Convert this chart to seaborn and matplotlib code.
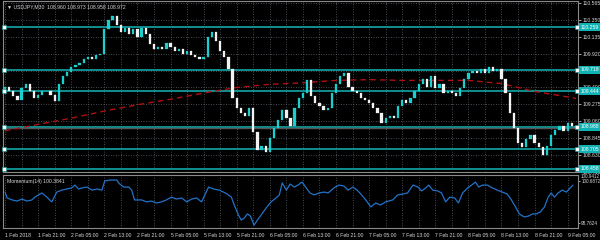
import matplotlib
matplotlib.use("Agg")
import matplotlib.pyplot as plt
import matplotlib.transforms as mtransforms
import seaborn as sns
import numpy as np
import pandas as pd

# ---------------- data ----------------
title_text = "▼ USDJPY,M30  108.960 108.973 108.958 108.972"
first_open = 109.47
closes = [109.50, 109.45, 109.38, 109.33, 109.48, 109.53, 109.45, 109.35, 109.39, 109.44,
          109.45, 109.40, 109.32, 109.54, 109.64, 109.69, 109.75, 109.78, 109.80, 109.85,
          109.88, 109.85, 109.90, 109.92, 110.23, 110.35, 110.40, 110.29, 110.20, 110.25,
          110.17, 110.23, 110.13, 110.25, 110.17, 110.04, 109.98, 110.00, 109.98, 110.05,
          110.00, 109.95, 109.98, 109.92, 109.95, 109.90, 109.88, 109.85, 109.88, 110.13,
          110.20, 110.08, 109.95, 109.88, 109.73, 109.35, 109.23, 109.17, 109.13, 109.23,
          108.92, 108.70, 108.75, 108.67, 108.85, 108.98, 109.08, 109.20, 109.10, 109.00,
          109.23, 109.35, 109.42, 109.58, 109.38, 109.29, 109.25, 109.20, 109.23, 109.42,
          109.54, 109.63, 109.67, 109.50, 109.45, 109.42, 109.35, 109.33, 109.29, 109.23,
          109.17, 109.04, 109.10, 109.13, 109.10, 109.25, 109.33, 109.29, 109.35, 109.45,
          109.54, 109.60, 109.50, 109.63, 109.48, 109.54, 109.42, 109.45, 109.42, 109.38,
          109.48, 109.60, 109.67, 109.70, 109.67, 109.73, 109.68, 109.75, 109.70, 109.73,
          109.60, 109.42, 109.17, 108.98, 108.79, 108.73, 108.83, 108.88, 108.79, 108.73,
          108.63, 108.75, 108.88, 108.95, 109.00, 108.94, 109.04, 109.00, 108.97]

ma_idx = [0, 8, 16, 24, 32, 40, 48, 56, 64, 72, 80, 88, 96, 104, 112, 120, 128, 136, 138]
ma_val = [108.94, 109.02, 109.10, 109.19, 109.27, 109.34, 109.42, 109.49, 109.53, 109.55,
          109.58, 109.59, 109.58, 109.58, 109.58, 109.54, 109.44, 109.37, 109.35]

mom_idx = [0, 0.5, 1.7, 2.9, 4.1, 5.3, 6.5, 7.2, 8.9, 10.1, 11.3, 12.5, 13.7, 14.9, 16.1, 16.9,
           17.8, 18.6, 19.8, 21.0, 22.2, 23.4, 24.1, 25.3, 27.0, 27.7, 28.7, 29.9, 30.6, 31.3,
           33.0, 34.2, 35.4, 36.6, 37.8, 39.0, 40.2, 41.4, 42.7, 43.9, 45.1, 46.3, 47.5, 48.4,
           49.2, 50.4, 51.8, 52.8, 53.7, 54.7, 55.4, 56.4, 57.1, 57.8, 58.6, 59.3, 60.2, 61.0,
           61.9, 63.1, 64.3, 65.5, 66.3, 67.0, 68.0, 68.9, 69.9, 70.8, 71.8, 72.8, 73.7, 74.7,
           75.9, 77.1, 78.1, 79.5, 80.7, 81.9, 82.9, 84.1, 85.1, 86.0, 87.2, 88.4, 89.6, 90.8,
           92.0, 93.7, 94.9, 96.1, 97.3, 98.6, 99.8, 100.7, 101.7, 102.4, 103.4, 104.6, 105.5,
           106.5, 107.5, 108.7, 109.6, 110.6, 111.8, 112.8, 113.7, 114.5, 115.4, 116.6, 117.8,
           119.0, 120.2, 121.4, 122.4, 123.4, 124.3, 125.5, 126.5, 127.5, 128.4, 129.4, 130.4,
           131.3, 132.0, 132.8, 133.7, 134.7, 135.7, 136.6, 137.3]
mom_val = [100.18, 99.91, 99.82, 99.77, 99.86, 99.77, 99.82, 99.95, 100.14, 99.95, 99.73, 100.18,
           100.27, 100.32, 100.37, 100.50, 100.32, 100.37, 100.41, 100.27, 100.32, 100.27, 100.69,
           100.73, 100.73, 100.55, 100.41, 100.41, 100.27, 99.82, 99.82, 99.73, 99.77, 99.68,
           99.73, 99.82, 99.95, 99.86, 99.91, 99.73, 99.86, 99.91, 99.73, 100.09, 100.41, 100.32,
           100.27, 100.18, 100.09, 99.95, 99.59, 99.13, 98.90, 98.99, 99.18, 99.08, 98.67, 98.90,
           99.13, 99.45, 99.73, 99.91, 100.05, 100.60, 100.27, 100.55, 100.41, 100.50, 100.64,
           100.37, 100.14, 100.05, 100.14, 100.18, 100.14, 100.37, 100.50, 100.46, 100.27, 100.41,
           100.27, 100.09, 99.82, 99.50, 99.68, 99.59, 99.73, 99.82, 100.05, 100.09, 100.14,
           100.50, 100.41, 100.23, 100.37, 100.50, 100.27, 100.23, 100.14, 99.73, 99.95, 99.91,
           99.68, 100.14, 100.37, 100.50, 100.64, 100.41, 100.50, 100.50, 100.37, 100.27, 100.18,
           100.09, 99.82, 99.50, 99.18, 99.04, 99.08, 99.18, 99.18, 99.27, 99.50, 99.95, 100.14,
           99.95, 100.14, 100.27, 100.18, 100.37, 100.50]
mom_label = "Momentum(14) 100.3841"

price_ticks = [110.565, 110.350, 110.135, 109.920, 109.705, 109.490, 109.275,
               109.060, 108.845, 108.630, 108.415]
levels = [110.259, 109.718, 109.444, 108.988, 108.705, 108.458]
bid = 108.972
mom_tick_vals = [100.6872, 98.7624]
mom_top_label = "100.9412"

x_labels = ["1 Feb 2018", "1 Feb 21:00", "2 Feb 05:00", "2 Feb 13:00", "2 Feb 21:00",
            "5 Feb 05:00", "5 Feb 13:00", "5 Feb 21:00", "6 Feb 05:00", "6 Feb 13:00",
            "6 Feb 21:00", "7 Feb 05:00", "7 Feb 13:00", "7 Feb 21:00", "8 Feb 05:00",
            "8 Feb 13:00", "8 Feb 21:00", "9 Feb 05:00"]

# ---------------- styling ----------------
sns.set_style("dark")
plt.rcParams['font.family'] = ['Liberation Sans', 'DejaVu Sans']
BG = "black"
TXT = "#d8d8d8"
GRID = "#5c6670"
FRAME = "#8a8a8a"
TEAL = "#118f8f"
BOX = "#0fb3b3"
UP = "#1ccfcf"
DOWN = "#f2f2f2"
FS = 3.7
FS2 = 3.3

fig = plt.figure(figsize=(6, 2.4), dpi=100, facecolor=BG)
ax = fig.add_axes([3/600, 1-172/240, 575/600, 171/240])
ax2 = fig.add_axes([3/600, 1-228/240, 575/600, 53/240])

n = len(closes)
idx = np.arange(n)
opens = [first_open] + closes[:-1]
df = pd.DataFrame({"i": idx, "open": opens, "close": closes})
df["up"] = df["close"] >= df["open"]

for a in (ax, ax2):
    a.set_facecolor(BG)
    for s in a.spines.values():
        s.set_color(FRAME)
        s.set_linewidth(0.8)
    a.set_xlim(-0.5, n - 0.5)
    for gx in range(0, n, 4):
        a.axvline(gx, color=GRID, lw=0.6, ls=(0, (1, 2)), zorder=0)
    a.grid(False)

ax.set_ylim(108.4525, 110.59)
ax2.set_ylim(98.535, 100.962)

# horizontal grid in main panel
for t in price_ticks:
    ax.axhline(t, color=GRID, lw=0.6, ls=(0, (1, 2)), zorder=0)

# level lines
for lv in levels:
    ax.plot([-0.5, n - 0.5], [lv, lv], color=TEAL, lw=1.4, zorder=1)
    ax.plot([-0.2, n - 0.8], [lv, lv], ls="none", marker="s", ms=2.2,
            mfc="white", mec=TEAL, mew=0.4, zorder=4, clip_on=False)
ax.axhline(bid, color="#555555", lw=1.0, zorder=1)

# candles
body = df["close"] - df["open"]
body = body.where(body.abs() > 0.006, 0.006)
colors = [UP if u else DOWN for u in df["up"]]
ax.bar(df["i"], body, bottom=df["open"], width=0.55, color=colors,
       edgecolor=colors, linewidth=0.2, zorder=3)

# moving average
sns.lineplot(x=ma_idx, y=ma_val, ax=ax, color="#b01010", lw=1.0, zorder=2)
ax.lines[-1].set_dashes([4, 3])

# momentum
sns.lineplot(x=mom_idx, y=mom_val, ax=ax2, color="#2272c8", lw=0.9, zorder=3)

# axes ticks
ax.yaxis.tick_right()
ax.set_yticks(price_ticks)
ax.set_yticklabels([f"{t:.3f}" for t in price_ticks])
ax.tick_params(axis="y", colors=TXT, labelsize=FS, length=2, pad=1.2, width=0.5)
ax.set_xticks([])
ax.set_xlabel("")
ax.set_ylabel("")

ax2.yaxis.tick_right()
ax2.set_yticks(mom_tick_vals)
ax2.set_yticklabels([f"{t:.4f}" for t in mom_tick_vals])
ax2.tick_params(axis="y", colors=TXT, labelsize=FS2, length=1.5, pad=0.8, width=0.5)
ax2.set_xticks(list(range(0, n, 8))[:len(x_labels)])
ax2.set_xticklabels(x_labels)
ax2.tick_params(axis="x", colors=TXT, labelsize=FS, length=2, pad=1.5, width=0.5)
for lab in ax2.get_xticklabels():
    lab.set_ha("left")
ax2.set_xlabel("")
ax2.set_ylabel("")

# level label boxes
trans = mtransforms.blended_transform_factory(ax.transAxes, ax.transData)
for lv in levels:
    ax.text(1.005, lv, f"{lv:.3f}", transform=trans, fontsize=FS, color="white",
            va="center", ha="left", clip_on=False, zorder=6,
            bbox=dict(boxstyle="square,pad=0.3", fc=BOX, ec="none"))

fig.text(581/600, 1-176/240, mom_top_label, fontsize=FS2, color=TXT,
         va="center", ha="left")

# texts
ax.text(0.007, 0.965, title_text, transform=ax.transAxes, fontsize=FS, color=TXT,
        va="center", ha="left", zorder=7)
ax2.text(0.007, 0.87, mom_label, transform=ax2.transAxes, fontsize=FS, color=TXT,
         va="center", ha="left", zorder=7)

fig.savefig("out.png", dpi=100, facecolor=BG)
